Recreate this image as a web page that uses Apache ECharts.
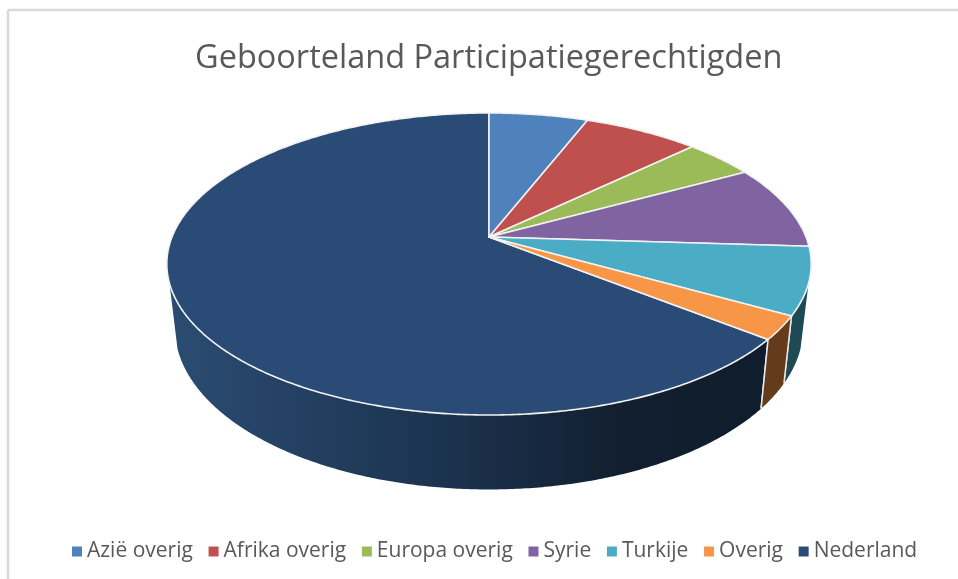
<!DOCTYPE html>
<html><head><meta charset="utf-8">
<style>html,body{margin:0;padding:0;background:#fff}#c{width:958px;height:579px}</style>
<script src="https://cdn.jsdelivr.net/npm/echarts@6/dist/echarts.min.js"></script>
</head><body><div id="c"></div>
<script>
const categories = ['Azië overig','Afrika overig','Europa overig','Syrie','Turkije','Overig','Nederland'];
const shares = [5.9, 6.9, 4.2, 9.0, 7.2, 2.5, 64.3];
const topColors = ['#4F81BD','#C0504D','#9BBB59','#8064A2','#4BACC6','#F79646','#2A4B75'];
const sideColors = ['#2A4A6E','#6E2C2A','#56692F','#46375A','#1E4A55','#643C1C','#1A2F4A'];
const titleText = 'Geboorteland Participatiegerechtigden';

// perspective projection of the pie disc
const P = {cx:489, cy:237, f:317, g:146.2, k:0.1787, sx:0.975, sy:1.07, d:62, vMin:0.3};
function uv(a){ return [Math.sin(a), -Math.cos(a)]; }
function topPt(a){ const [u,v]=uv(a), w=1-P.k*v; return [P.cx+P.f*u/w, P.cy+P.g*v/w]; }
function botPt(a){ const [u,v]=uv(a), w=1-P.k*v; return [P.cx+P.sx*P.f*u/w, P.cy+P.d+P.sy*P.g*v/w]; }
const total = shares.reduce((s,v)=>s+v,0);
const STEP = Math.PI/360;
const vis0 = Math.PI - Math.acos(P.vMin), vis1 = Math.PI + Math.acos(P.vMin);

function renderSlice(params, api){
  const before = api.value(0), val = api.value(1), idx = params.seriesIndex;
  const a0 = before/total*2*Math.PI, a1 = (before+val)/total*2*Math.PI;
  const n = Math.max(2, Math.ceil((a1-a0)/STEP));
  const arc = [];
  for(let i=0;i<=n;i++) arc.push(topPt(a0+(a1-a0)*i/n));
  const children = [];
  const s0 = Math.max(a0,vis0), s1 = Math.min(a1,vis1);
  if(s1>s0){
    const m = Math.max(2, Math.ceil((s1-s0)/STEP)), up=[], dn=[];
    for(let i=0;i<=m;i++){ const a=s0+(s1-s0)*i/m; up.push(topPt(a)); dn.unshift(botPt(a)); }
    const isBig = val > 50;
    children.push({type:'polygon', shape:{points:up.concat(dn)},
      style:{fill: isBig ? new echarts.graphic.LinearGradient(0,0,1,0,[
        {offset:0,color:'#2B4C72'},{offset:0.45,color:'#1C3350'},{offset:0.75,color:'#121F30'},{offset:1,color:'#101D2C'}]) : sideColors[idx]}});
    [[a0,s0],[a1,s1]].forEach(([edge,s])=>{
      if(edge===s && edge>vis0 && edge<vis1){
        const t=topPt(edge), b=botPt(edge);
        children.push({type:'line', shape:{x1:t[0],y1:t[1],x2:b[0],y2:b[1]}, style:{stroke:'#E8E8E8',lineWidth:1.5}});
      }
    });
  }
  children.push({type:'polygon', shape:{points:[[P.cx,P.cy]].concat(arc)},
    style:{fill:topColors[idx], stroke:'#F2F2F2', lineWidth:1.6, lineJoin:'round'}});
  return {type:'group', children};
}

let run = 0;
const series = categories.map((name,i)=>{
  const item = [run, shares[i]];
  run += shares[i];
  return {type:'custom', name, coordinateSystem:'none', renderItem:renderSlice,
    itemStyle:{color:topColors[i]}, data:[item], animation:false, silent:true, clip:false, z:i===6?1:2};
});

const chart = echarts.init(document.getElementById('c'), null, {renderer:'canvas'});
chart.setOption({
  animation:false,
  backgroundColor:'#fff',
  title:{text:titleText, left:190, top:37, textStyle:{fontFamily:'Open Sans',fontSize:32.5,fontWeight:'normal',color:'#595959'}},
  legend:{left:67, top:536, itemWidth:10, itemHeight:10, itemGap:15.7, icon:'rect',
    data:categories, textStyle:{fontFamily:'Open Sans',fontSize:21,color:'#595959'}},
  graphic:[
    {type:'line', silent:true, shape:{x1:8,y1:10,x2:958,y2:10}, style:{stroke:'#D9D9D9',lineWidth:2.5}},
    {type:'line', silent:true, shape:{x1:8,y1:10,x2:8,y2:579}, style:{stroke:'#D9D9D9',lineWidth:2.5}}
  ],
  series
});
</script></body></html>
